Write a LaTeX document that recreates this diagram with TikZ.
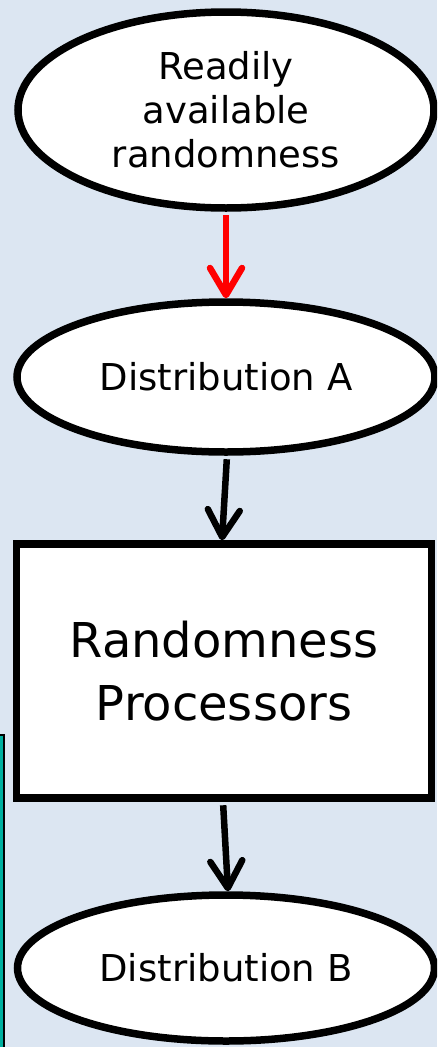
\documentclass[tikz,border=0pt]{standalone}
\usepackage{fontspec}
\setmainfont{DejaVu Sans}
\usetikzlibrary{arrows.meta,shapes.geometric}
\definecolor{slideblue}{RGB}{220,230,242}
\definecolor{sideteal}{RGB}{0,176,160}

\begin{document}
\begin{tikzpicture}[
  x=1pt, y=-1pt,
  dist/.style={ellipse, draw, line width=7.5pt, fill=white, inner sep=0pt,
    align=center, font=\fontsize{37}{44}\selectfont},
  proc box/.style={rectangle, draw, line width=7.5pt, fill=white,
    minimum width=415pt, minimum height=254pt, align=center,
    font=\fontsize{48}{63}\selectfont},
  flow/.style={line width=6.5pt, shorten <=3.5pt,
    -{Straight Barb[length=27pt,width=32pt,round]}},
  ]
  \useasboundingbox (0,0) rectangle (437,1047);
  \clip (0,0) rectangle (437,1047);
  \fill[slideblue] (0,0) rectangle (437,1047);
  % edge of the next box, cut off at the left
  \filldraw[fill=sideteal, draw=black, line width=1.5pt] (-10,735) rectangle (4,1060);

  \node[dist, minimum width=416pt, minimum height=196pt] (source) at (226,110)
    {Readily\\available\\randomness};
  \node[dist, minimum width=418pt, minimum height=150pt] (distA) at (226,377)
    {Distribution A};
  \node[proc box] (proc) at (224,671) {Randomness\\Processors};
  \node[dist, minimum width=417pt, minimum height=146pt] (distB) at (226,968)
    {Distribution B};
  \coordinate (out) at (227,1060);

  \draw[flow, red] (source) -- (distA);
  \draw[flow] ([xshift=1pt]distA.south) -- ([xshift=-2pt]proc.north);
  \draw[flow] ([xshift=-1pt]proc.south) -- ([xshift=2pt]distB.north);
  \draw[red, line width=6.5pt, shorten <=3.5pt] (distB.south) -- (out);
\end{tikzpicture}
\end{document}
